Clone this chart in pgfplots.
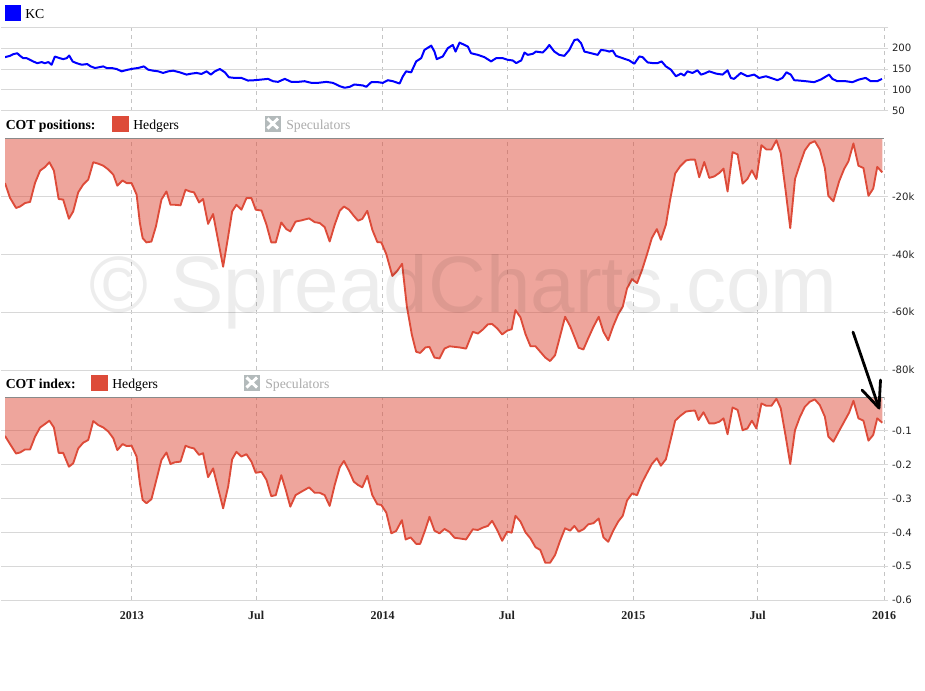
\documentclass[border=0pt]{standalone}
\usepackage{pgfplots}
\pgfplotsset{compat=1.18}
\usepackage{fontspec}
\setmainfont{Liberation Serif}
\newfontfamily\tickfont{DejaVu Sans}
\newfontfamily\wmfont{Liberation Sans}
\definecolor{hedge}{HTML}{DD4B39}
\definecolor{kcblue}{HTML}{0000FF}
\definecolor{hgrid}{HTML}{D8D8D8}
\definecolor{vgrid}{HTML}{C4C4C4}
\definecolor{topline}{HTML}{8A8A8A}
\definecolor{spectext}{HTML}{ABABAB}
\definecolor{specicon}{HTML}{B3BABB}
\definecolor{ticktext}{HTML}{222222}

\pgfplotstableread{
year price
2012.494 178.6
2012.514 181.7
2012.527 185.7
2012.543 188
2012.554 181.7
2012.567 176
2012.581 176
2012.594 172
2012.607 168
2012.623 164
2012.640 166.7
2012.653 164
2012.667 166.7
2012.680 160.3
2012.693 180
2012.713 176
2012.726 173.8
2012.740 176
2012.750 182.5
2012.764 168
2012.780 164
2012.800 160.3
2012.822 161.9
2012.836 156.3
2012.853 152.4
2012.873 154.7
2012.886 156.3
2012.899 152.4
2012.919 152.4
2012.939 150
2012.959 144.4
2012.985 148.4
2013.005 150.8
2013.025 152.4
2013.048 156.3
2013.065 148.4
2013.085 146
2013.105 144.4
2013.125 140.5
2013.145 144.4
2013.165 146
2013.191 142
2013.218 136.5
2013.238 138.9
2013.258 140.5
2013.278 138.1
2013.298 144.4
2013.315 136.5
2013.331 144.4
2013.351 150
2013.371 142
2013.387 130.1
2013.410 128.5
2013.437 128.5
2013.463 122.2
2013.490 123
2013.517 124.6
2013.543 126.2
2013.563 120.6
2013.583 119
2013.610 126.2
2013.636 119
2013.663 119
2013.689 120.6
2013.716 116.6
2013.742 116.6
2013.776 119
2013.802 116.6
2013.829 108.7
2013.849 104.8
2013.869 107.1
2013.888 112.7
2013.922 110.3
2013.935 107.1
2013.955 118.3
2013.981 118.3
2014.001 116.6
2014.021 123
2014.041 120.6
2014.068 115
2014.081 132.5
2014.094 144.4
2014.114 142
2014.134 168.3
2014.154 176.2
2014.167 196
2014.194 206.3
2014.207 192
2014.216 173.8
2014.240 180.2
2014.260 200
2014.280 208
2014.291 192
2014.307 213.5
2014.327 208
2014.340 204
2014.353 188
2014.380 184.1
2014.406 178.6
2014.433 168.3
2014.453 176.2
2014.479 176.2
2014.499 172.2
2014.519 170.6
2014.533 164.3
2014.553 170.6
2014.566 189.7
2014.579 184.1
2014.599 186.5
2014.612 192
2014.639 189.7
2014.652 197.6
2014.665 207.9
2014.685 192
2014.705 184.1
2014.725 181.7
2014.745 196
2014.765 219.8
2014.778 221.4
2014.792 211.9
2014.805 192
2014.832 188
2014.858 184.1
2014.871 196
2014.891 194.4
2014.904 192
2014.918 194.4
2014.931 181.7
2014.957 176.2
2014.984 170.6
2015.004 162.7
2015.024 180.2
2015.037 178.6
2015.057 165.9
2015.077 164.3
2015.097 164.3
2015.113 168.3
2015.130 156.3
2015.150 148.4
2015.170 132.5
2015.190 138.9
2015.203 134.1
2015.216 144.4
2015.236 140.5
2015.256 146.8
2015.270 136.5
2015.283 138.9
2015.303 144.4
2015.330 138.9
2015.356 136.5
2015.376 146.8
2015.389 128.5
2015.402 126.2
2015.429 140.5
2015.455 132.5
2015.482 136.5
2015.502 128.5
2015.529 132.5
2015.549 128.5
2015.575 123
2015.595 128.5
2015.611 142
2015.628 136.5
2015.642 123
2015.661 122.2
2015.688 120.6
2015.721 118.3
2015.748 124.6
2015.781 136.5
2015.794 126.2
2015.814 120.6
2015.847 120.6
2015.874 118.3
2015.900 124.6
2015.927 128.5
2015.947 120.6
2015.973 120.6
2015.992 126.2
}\pricetable

\pgfplotstableread{
year pos
2012.494 -15.4
2012.514 -20.5
2012.538 -24.0
2012.554 -23.5
2012.574 -22.3
2012.594 -21.9
2012.614 -15.3
2012.634 -11.1
2012.653 -9.9
2012.671 -8.2
2012.689 -11.1
2012.708 -20.9
2012.726 -21.1
2012.749 -27.7
2012.766 -25.2
2012.786 -18.6
2012.806 -15.9
2012.826 -14.2
2012.846 -8.2
2012.866 -8.7
2012.886 -9.4
2012.906 -10.7
2012.926 -12.5
2012.942 -16.3
2012.963 -14.5
2012.979 -15.4
2012.999 -15.4
2013.019 -19.4
2013.032 -29.2
2013.043 -34.4
2013.058 -35.9
2013.078 -35.6
2013.096 -30.4
2013.118 -21.1
2013.138 -18.3
2013.154 -22.9
2013.171 -22.9
2013.194 -23.1
2013.214 -17.7
2013.231 -18.3
2013.248 -18.6
2013.268 -22.1
2013.284 -20.9
2013.304 -29.5
2013.324 -26.1
2013.364 -44.3
2013.384 -33.9
2013.400 -25.2
2013.417 -22.9
2013.437 -24.6
2013.457 -20.6
2013.477 -20.6
2013.494 -24.6
2013.517 -24.9
2013.537 -29.8
2013.556 -35.9
2013.574 -35.9
2013.596 -29.0
2013.616 -31.3
2013.632 -32.1
2013.653 -28.7
2013.676 -28.3
2013.707 -27.6
2013.729 -28.9
2013.749 -29.2
2013.769 -30.6
2013.789 -35.6
2013.809 -29.8
2013.829 -25.0
2013.846 -23.5
2013.866 -24.6
2013.885 -26.7
2013.902 -28.4
2013.919 -27.8
2013.939 -25.0
2013.959 -31.5
2013.979 -35.8
2013.995 -35.9
2014.015 -40.0
2014.039 -47.5
2014.058 -45.8
2014.078 -43.3
2014.097 -58.1
2014.117 -67.9
2014.134 -73.7
2014.150 -74.1
2014.171 -72.2
2014.187 -72.0
2014.207 -75.7
2014.227 -76.0
2014.247 -72.6
2014.267 -71.8
2014.287 -72.0
2014.307 -72.2
2014.333 -72.6
2014.360 -66.8
2014.380 -67.4
2014.400 -66.0
2014.420 -64.2
2014.437 -64.1
2014.457 -65.6
2014.477 -67.7
2014.497 -66.4
2014.515 -65.9
2014.530 -59.3
2014.550 -61.8
2014.570 -67.6
2014.590 -71.8
2014.610 -71.8
2014.629 -73.7
2014.649 -75.7
2014.668 -76.9
2014.688 -74.9
2014.708 -68.3
2014.728 -61.6
2014.748 -64.8
2014.765 -68.5
2014.782 -72.3
2014.801 -72.9
2014.821 -68.9
2014.841 -65.1
2014.862 -61.6
2014.881 -66.8
2014.900 -69.7
2014.920 -64.8
2014.940 -60.7
2014.958 -58.1
2014.975 -51.8
2014.995 -48.6
2015.015 -50.0
2015.035 -45.4
2015.054 -40.2
2015.074 -34.4
2015.094 -31.3
2015.110 -35.0
2015.130 -29.8
2015.147 -21.1
2015.167 -12.1
2015.187 -9.6
2015.210 -7.6
2015.227 -7.3
2015.246 -7.3
2015.263 -13.4
2015.283 -8.1
2015.303 -13.6
2015.323 -13.1
2015.343 -11.9
2015.360 -10.4
2015.376 -18.3
2015.396 -4.7
2015.416 -5.5
2015.436 -15.6
2015.455 -14.0
2015.473 -11.0
2015.491 -14.0
2015.511 -2.3
2015.531 -3.8
2015.551 -3.8
2015.571 -0.6
2015.588 -5.0
2015.608 -18.3
2015.626 -31.0
2015.645 -14.0
2015.664 -9.0
2015.684 -4.1
2015.704 -1.7
2015.724 -0.9
2015.744 -3.8
2015.764 -10.2
2015.778 -19.8
2015.798 -21.7
2015.821 -14.8
2015.841 -10.5
2015.858 -7.9
2015.878 -1.7
2015.898 -9.4
2015.918 -10.2
2015.938 -19.8
2015.957 -17.3
2015.973 -9.8
2015.993 -11.7
}\postable

\pgfplotstableread{
year idx
2012.494 -0.115
2012.514 -0.139
2012.538 -0.167
2012.554 -0.164
2012.574 -0.155
2012.594 -0.155
2012.614 -0.117
2012.634 -0.090
2012.653 -0.080
2012.671 -0.070
2012.689 -0.090
2012.708 -0.165
2012.726 -0.165
2012.749 -0.206
2012.766 -0.196
2012.786 -0.152
2012.806 -0.135
2012.826 -0.127
2012.846 -0.071
2012.866 -0.083
2012.886 -0.090
2012.906 -0.102
2012.926 -0.122
2012.942 -0.157
2012.963 -0.139
2012.979 -0.145
2012.999 -0.144
2013.019 -0.176
2013.032 -0.255
2013.043 -0.304
2013.058 -0.314
2013.078 -0.302
2013.096 -0.250
2013.118 -0.186
2013.138 -0.164
2013.154 -0.198
2013.171 -0.193
2013.194 -0.191
2013.214 -0.144
2013.231 -0.149
2013.248 -0.152
2013.268 -0.171
2013.284 -0.166
2013.304 -0.237
2013.324 -0.211
2013.364 -0.329
2013.384 -0.265
2013.400 -0.184
2013.417 -0.162
2013.437 -0.176
2013.457 -0.169
2013.477 -0.191
2013.494 -0.224
2013.517 -0.221
2013.537 -0.245
2013.556 -0.293
2013.574 -0.290
2013.596 -0.231
2013.614 -0.275
2013.632 -0.324
2013.653 -0.290
2013.676 -0.280
2013.707 -0.267
2013.729 -0.283
2013.749 -0.283
2013.769 -0.290
2013.789 -0.322
2013.809 -0.260
2013.829 -0.208
2013.846 -0.189
2013.866 -0.218
2013.885 -0.250
2013.902 -0.260
2013.919 -0.267
2013.939 -0.233
2013.959 -0.290
2013.979 -0.317
2013.995 -0.319
2014.015 -0.342
2014.035 -0.403
2014.054 -0.396
2014.077 -0.364
2014.092 -0.421
2014.112 -0.415
2014.134 -0.434
2014.150 -0.434
2014.170 -0.393
2014.187 -0.354
2014.207 -0.395
2014.227 -0.403
2014.247 -0.390
2014.267 -0.399
2014.287 -0.416
2014.307 -0.418
2014.333 -0.421
2014.360 -0.391
2014.380 -0.393
2014.400 -0.386
2014.420 -0.381
2014.437 -0.366
2014.457 -0.393
2014.477 -0.425
2014.497 -0.398
2014.515 -0.401
2014.530 -0.351
2014.550 -0.368
2014.570 -0.400
2014.590 -0.418
2014.610 -0.444
2014.629 -0.452
2014.649 -0.490
2014.668 -0.490
2014.688 -0.467
2014.708 -0.425
2014.728 -0.388
2014.748 -0.395
2014.765 -0.381
2014.782 -0.398
2014.801 -0.391
2014.821 -0.376
2014.841 -0.373
2014.862 -0.359
2014.881 -0.415
2014.900 -0.428
2014.920 -0.395
2014.940 -0.368
2014.958 -0.351
2014.975 -0.306
2014.995 -0.285
2015.015 -0.290
2015.035 -0.253
2015.054 -0.226
2015.074 -0.198
2015.094 -0.181
2015.110 -0.203
2015.130 -0.184
2015.147 -0.132
2015.167 -0.070
2015.187 -0.056
2015.210 -0.043
2015.227 -0.041
2015.246 -0.040
2015.260 -0.068
2015.280 -0.045
2015.303 -0.078
2015.323 -0.078
2015.343 -0.073
2015.360 -0.063
2015.376 -0.110
2015.396 -0.031
2015.416 -0.038
2015.436 -0.098
2015.455 -0.093
2015.473 -0.070
2015.491 -0.093
2015.511 -0.019
2015.531 -0.026
2015.551 -0.026
2015.571 -0.005
2015.588 -0.033
2015.608 -0.117
2015.626 -0.198
2015.645 -0.098
2015.664 -0.060
2015.684 -0.029
2015.704 -0.014
2015.724 -0.007
2015.744 -0.024
2015.764 -0.058
2015.778 -0.117
2015.798 -0.132
2015.821 -0.100
2015.841 -0.073
2015.861 -0.046
2015.878 -0.011
2015.898 -0.063
2015.918 -0.070
2015.938 -0.129
2015.957 -0.112
2015.973 -0.063
2015.993 -0.076
}\idxtable

\pgfplotsset{
  panel/.style={
    scale only axis,
    width=659.25pt,
    anchor=south west,
    xmin=2012.494, xmax=2016.0,
    axis line style={draw=none},
    xtick={2013,2013.496,2014,2014.496,2015,2015.496,2016},
    xmajorgrids,
    x grid style={color=vgrid, dash pattern=on 3pt off 3pt, line width=0.6pt},
    ymajorgrids,
    y grid style={color=hgrid, line width=0.75pt},
    yticklabel pos=right,
    tick align=outside,
    xtick style={draw=none},
    ytick style={color=hgrid, line width=0.75pt},
    major tick length=3pt,
    yticklabel style={font=\tickfont\fontsize{7.6}{8.5}\selectfont, text=ticktext, anchor=west, xshift=-0.5pt},
    /pgf/number format/assume math mode=true,
  }
}

\begin{document}
\begin{tikzpicture}
\path[use as bounding box] (0,0) rectangle (693.75pt,-517.5pt);

% price panel
\begin{axis}[panel, at={(3.75pt,-82.875pt)}, height=62.25pt,
  ymin=50, ymax=250, ytick={50,100,150,200,250}, yticklabels={50,100,150,200,{}},
  xticklabels={}]
\addplot[kcblue, line width=1.5pt, line join=round] table[x=year, y=price] {\pricetable};
\end{axis}

% positions panel
\begin{axis}[panel, at={(3.75pt,-277.5pt)}, height=173.625pt,
  ymin=-80, ymax=0, ytick={-80,-60,-40,-20}, yticklabels={-80k,-60k,-40k,-20k},
  xticklabels={}]
\addplot[draw=none, fill=hedge, fill opacity=0.5] table[x=year, y=pos] {\postable} \closedcycle;
\addplot[hedge, line width=1.4pt, line join=round] table[x=year, y=pos] {\postable};
\draw[topline, line width=0.75pt] (rel axis cs:0,1) -- (rel axis cs:1,1);
\end{axis}

% index panel
\begin{axis}[panel, at={(3.75pt,-450pt)}, height=152.25pt,
  ymin=-0.6, ymax=0, ytick={-0.6,-0.5,-0.4,-0.3,-0.2,-0.1},
  yticklabels={-0.6,-0.5,-0.4,-0.3,-0.2,-0.1},
  xticklabels={2013,Jul,2014,Jul,2015,Jul,2016},
  xticklabel style={font=\bfseries\fontsize{9}{10}\selectfont, text=ticktext, yshift=-2pt}]
\addplot[draw=none, fill=hedge, fill opacity=0.5] table[x=year, y=idx] {\idxtable} \closedcycle;
\addplot[hedge, line width=1.4pt, line join=round] table[x=year, y=idx] {\idxtable};
\draw[topline, line width=0.75pt] (rel axis cs:0,1) -- (rel axis cs:1,1);
\end{axis}

\begin{scope}[x=0.75pt, y=-0.75pt]
  % legend KC
  \fill[kcblue] (5,5) rectangle (21,21);
  \node[anchor=base west, inner sep=0, font=\fontsize{10.3}{12}\selectfont] at (25,18) {KC};
  % COT positions legend
  \node[anchor=base west, inner sep=0, font=\bfseries\fontsize{10.3}{12}\selectfont] at (5.5,129) {COT positions:};
  \fill[hedge] (112,115.5) rectangle (128.5,131.5);
  \node[anchor=base west, inner sep=0, font=\fontsize{10.3}{12}\selectfont] at (133,129) {Hedgers};
  \fill[specicon] (264.5,115.5) rectangle (281,131.5);
  \draw[white, line width=2.2pt] (267.5,118.5) -- (278,128.5) (267.5,128.5) -- (278,118.5);
  \node[anchor=base west, inner sep=0, font=\fontsize{10.3}{12}\selectfont, text=spectext] at (286,129) {Speculators};
  % COT index legend
  \node[anchor=base west, inner sep=0, font=\bfseries\fontsize{10.3}{12}\selectfont] at (5.5,388.5) {COT index:};
  \fill[hedge] (91,374.5) rectangle (107.5,390.5);
  \node[anchor=base west, inner sep=0, font=\fontsize{10.3}{12}\selectfont] at (112,388.5) {Hedgers};
  \fill[specicon] (243.5,374.5) rectangle (260,390.5);
  \draw[white, line width=2.2pt] (246.5,377.5) -- (257,387.5) (246.5,387.5) -- (257,377.5);
  \node[anchor=base west, inner sep=0, font=\fontsize{10.3}{12}\selectfont, text=spectext] at (265,388.5) {Speculators};
  % watermark
  \node[anchor=base west, inner sep=0, font=\wmfont\fontsize{60}{60}\selectfont, text=black, text opacity=0.07] at (89,312) {© SpreadCharts.com};
  % arrow
  \draw[black, line width=2.1pt, line cap=round, line join=round] (853,332) -- (879,408);
  \draw[black, line width=2.1pt, line cap=round, line join=round] (862,390) -- (879,408) -- (880.5,380);
\end{scope}
\end{tikzpicture}
\end{document}
